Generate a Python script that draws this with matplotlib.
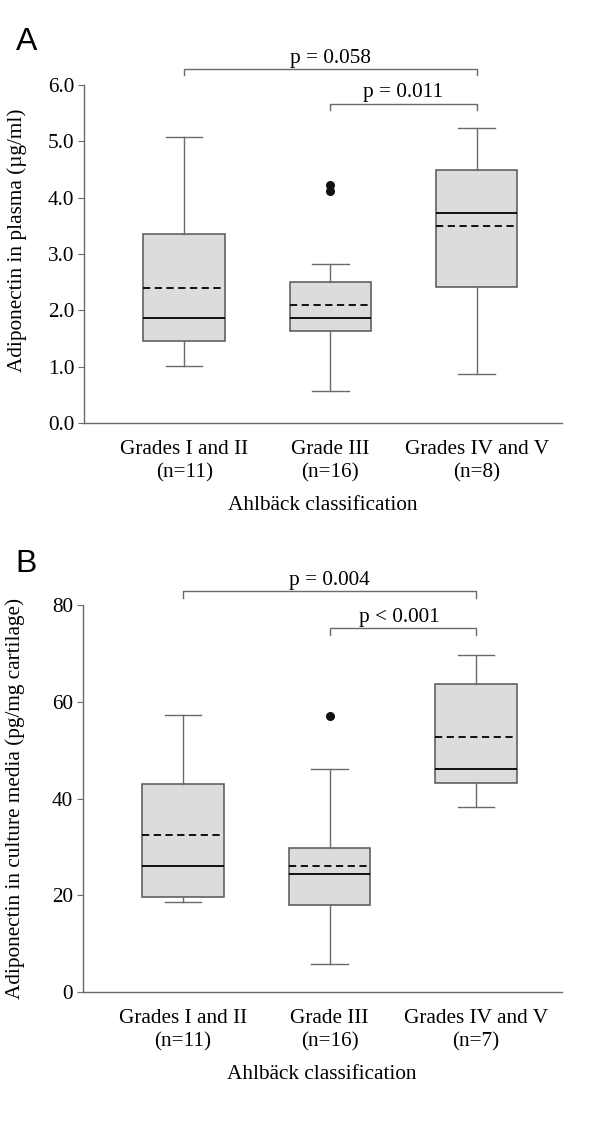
import matplotlib
matplotlib.use('Agg')
import matplotlib.pyplot as plt

plt.rcParams['font.family'] = ['Liberation Serif', 'DejaVu Serif']

# categories / tick labels
groups_a = ['Grades I and II\n(n=11)', 'Grade III\n(n=16)', 'Grades IV and V\n(n=8)']
groups_b = ['Grades I and II\n(n=11)', 'Grade III\n(n=16)', 'Grades IV and V\n(n=7)']

# panel A: plasma adiponectin (ug/ml)
a_whislo = [1.02, 0.57, 0.87]
a_q1 = [1.46, 1.64, 2.42]
a_med = [1.86, 1.87, 3.72]
a_mean = [2.40, 2.10, 3.50]
a_q3 = [3.35, 2.50, 4.49]
a_whishi = [5.08, 2.82, 5.23]
a_fliers = [[], [4.22, 4.12], []]

# panel B: culture media adiponectin (pg/mg cartilage)
b_whislo = [18.7, 5.7, 38.2]
b_q1 = [19.7, 17.9, 43.3]
b_med = [26.0, 24.3, 46.2]
b_mean = [32.4, 26.1, 52.8]
b_q3 = [43.0, 29.7, 63.7]
b_whishi = [57.3, 46.1, 69.7]
b_fliers = [[], [57.0], []]

# p-value brackets: (x1, x2, y, drop, text, text_x, text_y)
a_brackets = [(1, 3, 6.28, 0.11, 'p = 0.058', 2.0, 6.39),
              (2, 3, 5.67, 0.11, 'p = 0.011', 2.5, 5.79)]
b_brackets = [(1, 3, 82.8, 1.3, 'p = 0.004', 2.0, 84.1),
              (2, 3, 75.2, 1.4, 'p < 0.001', 2.48, 76.5)]

FS = 15.3
GRAY = '#6a6a6a'


def panel(ax, labels, whislo, q1, med, mean, q3, whishi, fliers,
          brackets, ylim, yticks, ytick_fmt, ylabel, label_y):
    stats = []
    for i in range(len(labels)):
        stats.append(dict(whislo=whislo[i], q1=q1[i], med=med[i], mean=mean[i],
                          q3=q3[i], whishi=whishi[i], fliers=fliers[i]))
    ax.bxp(stats, positions=[1, 2, 3], widths=0.557, patch_artist=True,
           showmeans=True, meanline=True,
           boxprops=dict(facecolor='#dcdcdc', edgecolor='#555555', linewidth=1.1),
           whiskerprops=dict(color=GRAY, linewidth=1.0),
           capprops=dict(color=GRAY, linewidth=1.0),
           capwidths=0.25,
           medianprops=dict(color='black', linewidth=1.3),
           meanprops=dict(color='black', linewidth=1.3, linestyle=(0, (4, 2.5))),
           flierprops=dict(marker='o', markerfacecolor='#111111',
                           markeredgecolor='#111111', markersize=5.5))

    for x1, x2, y, d, txt, tx, ty in brackets:
        ax.plot([x1, x1, x2, x2], [y - d, y, y, y - d], color=GRAY, lw=1.0,
                clip_on=False)
        ax.text(tx, ty, txt, ha='center', va='baseline', fontsize=FS)

    ax.set_xlim(0.315, 3.585)
    ax.set_ylim(*ylim)
    ax.set_yticks(yticks)
    ax.set_yticklabels([ytick_fmt.format(v) for v in yticks], fontsize=FS)
    ax.set_xticks([1, 2, 3])
    ax.set_xticklabels(labels, fontsize=FS, linespacing=1.3)
    ax.tick_params(axis='x', length=0, pad=12)
    ax.tick_params(axis='y', length=4, color=GRAY, pad=3)
    for s in ['top', 'right']:
        ax.spines[s].set_visible(False)
    for s in ['left', 'bottom']:
        ax.spines[s].set_color(GRAY)
        ax.spines[s].set_linewidth(1.0)
    ax.set_xlabel('Ahlbäck classification', fontsize=FS, labelpad=10)
    ax.set_ylabel(ylabel, fontsize=FS)
    ax.yaxis.set_label_coords(-0.12, label_y)


fig = plt.figure(figsize=(6, 11.47), dpi=100)
ax_a = fig.add_axes([0.14, 0.6312, 0.797, 0.2947])
ax_b = fig.add_axes([0.138, 0.1351, 0.798, 0.3374])

panel(ax_a, groups_a, a_whislo, a_q1, a_med, a_mean, a_q3, a_whishi, a_fliers,
      a_brackets, (0, 6), [0, 1, 2, 3, 4, 5, 6], '{:.1f}',
      'Adiponectin in plasma (µg/ml)', 0.541)
panel(ax_b, groups_b, b_whislo, b_q1, b_med, b_mean, b_q3, b_whishi, b_fliers,
      b_brackets, (0, 80), [0, 20, 40, 60, 80], '{:.0f}',
      'Adiponectin in culture media (pg/mg cartilage)', 0.5)

fig.text(0.026, 0.9635, 'A', fontsize=23, family=['Liberation Sans', 'DejaVu Sans'],
         ha='left', va='center')
fig.text(0.026, 0.5085, 'B', fontsize=23, family=['Liberation Sans', 'DejaVu Sans'],
         ha='left', va='center')

fig.savefig('out.png', dpi=100)
